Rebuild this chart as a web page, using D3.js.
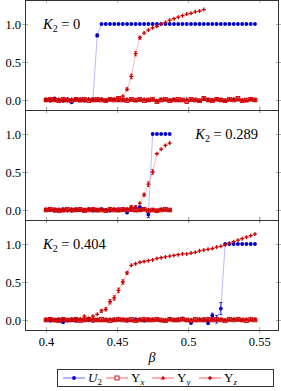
<!DOCTYPE html>
<html><head><meta charset="utf-8">
<script src="https://cdn.jsdelivr.net/npm/d3@7"></script>
<style>
body{margin:0;background:#fff}
svg{display:block}
svg text{font-family:"Liberation Serif","DejaVu Serif",serif !important;fill:#000}
</style>
</head><body>
<svg id="c" width="281" height="391"></svg>
<script>
// ---------- data ----------
const beta = [0.400,0.403,0.406,0.409,0.412,0.415,0.418,0.421,0.424,0.427,0.430,0.433,0.436,0.439,0.442,0.445,0.448,0.451,0.454,0.457,0.460,0.463,0.466,0.469,0.472,0.475,0.478,0.481,0.484,0.487,0.490,0.493,0.496,0.499,0.502,0.505,0.508,0.511,0.514,0.517,0.520,0.523,0.526,0.529,0.532,0.535,0.538,0.541,0.544,0.547];
const xTicks = [0.40,0.45,0.50,0.55];
const xTickLabels = ["0.4","0.45","0.5","0.55"];
const yTicks = [0.0,0.5,1.0];
const yTickLabels = ["0.0","0.5","1.0"];
const panelLabels = ["0","0.289","0.404"];
const seriesNames = ["U","Υ","Υ","Υ"];
const seriesSubs = ["2","x","y","z"];

// K2 = 0
const u2_k0 = [0.00,-0.01,0.02,0.00,-0.01,0.01,-0.03,0.01,0.01,-0.01,0.00,0.01,0.85,1,1,1,1,1,1,1,1,1,1,1,1,1,1,1,1,1,1,1,1,1,1,1,1,1,1,1,1,1,1,1,1,1,1,1,1,1];
const ux_k0 = [0.00,0.01,0.00,-0.01,0.01,0.00,-0.01,0.01,0.00,0.01,-0.01,0.00,0.01,0.00,-0.01,0.01,0.00,0.02,0.00,-0.01,0.01,0.00,0.01,-0.01,0.00,0.01,-0.02,0.00,0.01,-0.01,0.00,0.01,0.00,-0.02,0.01,0.00,-0.01,0.02,0.00,-0.01,0.01,0.00,-0.01,0.01,0.00,0.02,-0.01,0.00,0.01,0.00];
const uy_k0 = [0.01,0.00,0.00,0.01,-0.01,0.00,0.01,0.00,-0.01,0.00,0.01,0.00,-0.01,0.01,0.00,0.00,0.01,-0.01,0.00,0.01,0.00,-0.01,0.00,0.01,0.00,0.00,-0.01,0.01,0.00,0.00,0.01,-0.01,0.00,0.01,0.00,0.00,-0.01,0.01,0.00,0.00,0.01,0.00,-0.01,0.00,0.01,0.00,0.00,-0.01,0.01,0.00];
const uz_k0 = [0.00,0.00,0.01,0.00,0.00,-0.01,0.00,0.01,0.00,0.00,0.01,0.00,0.00,0.01,0.00,0.01,0.01,0.02,0.05,0.14,0.31,0.61,0.82,0.88,0.92,0.95,0.97,1.00,1.02,1.05,1.07,1.09,1.11,1.13,1.14,1.16,1.17,1.19];
const uzErr_k0 = [[19,0.02],[20,0.03],[21,0.03],[22,0.02]];
const u2Err_k0 = [[12,0.02]];
const uxErr_k0 = [[17,0.02],[26,0.02],[33,0.02],[37,0.02],[45,0.02]];

// K2 = 0.289
const u2_k1 = [0.00,0.01,-0.01,0.00,0.01,0.00,-0.01,0.01,0.00,0.00,0.01,-0.01,0.00,0.01,0.00,-0.01,0.00,0.01,0.00,-0.035,0.00,0.02,0.035,0.013,-0.06,1,1,1,1,1];
const ux_k1 = [0.00,0.01,0.00,-0.01,0.00,0.01,0.00,0.00,0.01,-0.01,0.00,0.01,0.00,0.00,-0.01,0.01,0.00,0.00,0.01,0.00,0.01,0.00,0.00,0.01,-0.01,0.00,-0.01,0.00,0.01,0.00];
const uy_k1 = [0.01,0.00,0.00,0.01,-0.01,0.00,0.01,0.00,0.00,0.00,0.01,0.00,-0.01,0.01,0.00,0.00,0.01,-0.01,0.00,0.01,0.00,-0.01,0.00,0.01,0.00,0.00,-0.01,0.01,0.00,0.00];
const uz_k1 = [0.00,0.00,0.01,0.00,0.00,-0.01,0.00,0.01,0.00,0.00,0.01,0.00,0.00,0.01,0.00,0.00,0.01,0.00,0.00,0.01,0.04,0.04,0.09,0.20,0.34,0.50,0.74,0.80,0.85,0.88];
const uzErr_k1 = [[20,0.02],[21,0.02],[23,0.02],[24,0.03],[25,0.03]];
const u2Err_k1 = [[22,0.02],[24,0.04]];
const uxErr_k1 = [[8,0.02],[23,0.02]];

// K2 = 0.404
const u2_k2 = [0.00,-0.01,0.00,0.01,-0.03,0.00,0.01,-0.01,0.00,0.01,0.00,-0.01,0.00,0.01,0.00,0.00,0.01,0.01,0.00,-0.01,0.00,0.01,0.00,-0.01,0.01,0.00,0.01,0.00,-0.01,0.01,0.00,0.01,0.02,0.00,-0.04,0.01,0.00,0.01,-0.04,0.06,0.01,0.15,1,1,1,1,1,1,1,1];
const ux_k2 = [0.00,0.01,0.00,-0.01,0.01,0.00,0.00,0.01,-0.01,0.00,0.01,0.00,0.00,0.01,0.00,-0.01,0.00,0.01,0.00,0.00,0.01,-0.01,0.00,0.01,0.00,0.00,0.01,0.00,-0.01,0.01,0.00,0.00,0.01,0.00,-0.01,0.01,0.00,0.00,0.01,0.00,0.01,0.00,-0.01,0.01,0.00,0.01,0.00,-0.01,0.01,0.00];
const uy_k2 = [0.01,0.00,-0.01,0.00,0.01,0.00,0.00,-0.01,0.01,0.00,0.00,0.01,0.00,-0.01,0.00,0.01,0.00,0.00,0.01,0.00,-0.01,0.00,0.01,0.00,0.00,0.01,0.00,-0.01,0.00,0.01,0.00,0.00,0.01,0.00,0.00,-0.01,0.01,0.00,0.00,0.01,0.00,0.01,0.00,0.00,0.01,0.00,0.00,0.01,0.00,0.01];
const uz_k2 = [0.00,0.01,0.00,0.00,0.01,-0.01,0.00,0.01,0.01,0.05,0.02,0.05,0.075,0.12,0.14,0.24,0.29,0.39,0.50,0.62,0.72,0.74,0.76,0.77,0.78,0.79,0.81,0.82,0.83,0.84,0.85,0.86,0.87,0.87,0.88,0.89,0.91,0.92,0.93,0.94,0.96,0.97,0.99,1.01,1.03,1.05,1.07,1.09,1.11,1.13];
const uzErr_k2 = [[13,0.02],[14,0.02],[15,0.03],[16,0.03],[17,0.03],[18,0.03],[19,0.02]];
const u2Err_k2 = [[38,0.02],[39,0.03],[40,0.05],[41,0.08]];
const uxErr_k2 = [[7,0.02],[24,0.02],[40,0.02]];

const panels = [
  {label: panelLabels[0], u2: u2_k0, ux: ux_k0, uy: uy_k0, uz: uz_k0, u2Err: u2Err_k0, uxErr: uxErr_k0, uzErr: uzErr_k0},
  {label: panelLabels[1], u2: u2_k1, ux: ux_k1, uy: uy_k1, uz: uz_k1, u2Err: u2Err_k1, uxErr: uxErr_k1, uzErr: uzErr_k1},
  {label: panelLabels[2], u2: u2_k2, ux: ux_k2, uy: uy_k2, uz: uz_k2, u2Err: u2Err_k2, uxErr: uxErr_k2, uzErr: uzErr_k2}
];

// ---------- layout ----------
const svg = d3.select("#c");
const L = 25, R = 279, PH = 110;
const tops = [0, 110, 220];
const x = d3.scaleLinear().domain([0.3852, 0.5639]).range([L, R]);
const BLUE = "#0000c8", BLUE_L = "#b3b3ff", RED = "#cc0000", RED_L = "#ffb0b0";
const labelPos = [{x: 43, anchor: "start"}, {x: 258, anchor: "end"}, {x: 43, anchor: "start"}];
const SERIF = '"Liberation Serif","DejaVu Serif",serif';

const defs = svg.append("defs");

function marker(g, type, cx, cy) {
  if (type === 0) {
    g.append("circle").attr("cx", cx).attr("cy", cy).attr("r", 1.9).attr("fill", BLUE);
  } else if (type === 1) {
    g.append("rect").attr("x", cx - 1.9).attr("y", cy - 1.9).attr("width", 3.8).attr("height", 3.8)
      .attr("fill", "#e05050").attr("stroke", RED).attr("stroke-width", 0.8);
  } else if (type === 2) {
    g.append("path").attr("d", `M${cx},${cy-2.4}L${cx+2.2},${cy+1.5}L${cx-2.2},${cy+1.5}Z`).attr("fill", RED);
  } else {
    g.append("path").attr("d", `M${cx-2},${cy}H${cx+2}M${cx},${cy-2}V${cy+2}`)
      .attr("stroke", RED).attr("stroke-width", 1.3).attr("fill", "none");
  }
}

panels.forEach((p, k) => {
  const top = tops[k];
  const y = d3.scaleLinear().domain([-0.1316, 1.3158]).range([top + PH, top]);
  const g = svg.append("g");
  const cid = "clip" + k;
  defs.append("clipPath").attr("id", cid).append("rect")
    .attr("x", L).attr("y", top).attr("width", R - L).attr("height", PH);

  const tickStyle = sel => { sel.select(".domain").remove(); sel.selectAll(".tick line").attr("stroke", "#9a9a9a").attr("stroke-width", 0.8); sel.selectAll("text").remove(); };
  g.append("g").attr("transform", `translate(0,${top + PH - 3})`)
    .call(d3.axisBottom(x).tickValues(xTicks).tickSize(6)).call(tickStyle);
  g.append("g").attr("transform", `translate(0,${top - 3})`)
    .call(d3.axisBottom(x).tickValues(xTicks).tickSize(6)).call(tickStyle);
  g.append("g").attr("transform", `translate(${L - 3},0)`)
    .call(d3.axisRight(y).tickValues(yTicks).tickSize(6)).call(tickStyle);
  g.append("g").attr("transform", `translate(${R - 3},0)`)
    .call(d3.axisRight(y).tickValues(yTicks).tickSize(6)).call(tickStyle);

  const ya = g.append("g").attr("transform", `translate(${L},0)`)
    .call(d3.axisLeft(y).tickValues(yTicks).tickSize(0).tickPadding(4).tickFormat((d, i) => yTickLabels[i]));
  ya.select(".domain").remove();
  ya.attr("font-family", null);
  ya.selectAll("text").attr("font-size", 12.5).style("font-family", SERIF).attr("dy", "0.35em");

  const plot = g.append("g").attr("clip-path", `url(#${cid})`);
  const series = [p.u2, p.ux, p.uy, p.uz];
  const errs = [p.u2Err, p.uxErr, null, p.uzErr];
  const lineCols = [BLUE_L, RED_L, RED_L, RED_L];
  const markCols = [BLUE, RED, RED, RED];
  const line = d3.line().x((d, i) => x(beta[i])).y(d => y(d));
  series.forEach((s, si) => {
    plot.append("path").datum(s).attr("d", line).attr("fill", "none")
      .attr("stroke", lineCols[si]).attr("stroke-width", 0.9);
  });
  series.forEach((s, si) => {
    const mg = plot.append("g");
    if (errs[si]) {
      errs[si].forEach(([i, e]) => {
        const cx = x(beta[i]);
        mg.append("path").attr("d", `M${cx},${y(s[i]-e)}V${y(s[i]+e)}M${cx-1.5},${y(s[i]-e)}H${cx+1.5}M${cx-1.5},${y(s[i]+e)}H${cx+1.5}`)
          .attr("stroke", markCols[si]).attr("stroke-width", 0.8).attr("fill", "none");
      });
    }
    s.forEach((v, i) => marker(mg, si, x(beta[i]), y(v)));
  });

  g.append("rect").attr("x", L + 0.5).attr("y", top + 0.5).attr("width", R - L - 1).attr("height", PH)
    .attr("fill", "none").attr("stroke", "#333").attr("stroke-width", 1);

  const lp = labelPos[k];
  const t = g.append("text").attr("x", lp.x).attr("y", top + 29).attr("text-anchor", lp.anchor).attr("font-size", 14.5);
  t.append("tspan").attr("font-style", "italic").text("K");
  t.append("tspan").attr("font-size", 10).attr("dy", 3).text("2");
  t.append("tspan").attr("dy", -3).text(" = " + p.label);
});

const xa = svg.append("g").attr("transform", `translate(0,${330})`)
  .call(d3.axisBottom(x).tickValues(xTicks).tickSize(0).tickPadding(7).tickFormat((d, i) => xTickLabels[i]));
xa.select(".domain").remove();
xa.attr("font-family", null);
xa.selectAll("text").attr("font-size", 12.5).style("font-family", SERIF);

svg.append("text").attr("x", (L + R) / 2).attr("y", 362).attr("text-anchor", "middle")
  .attr("font-size", 14).attr("font-style", "italic").text("β");

const lg = svg.append("g");
lg.append("rect").attr("x", 57.5).attr("y", 369.5).attr("width", 216).attr("height", 17)
  .attr("fill", "#fff").attr("stroke", "#333").attr("stroke-width", 1);
const legX = [63, 106, 152, 199];
const legLine = [BLUE_L, RED_L, RED_L, RED_L];
legX.forEach((lx, i) => {
  const cy = 378;
  lg.append("line").attr("x1", lx).attr("x2", lx + 22).attr("y1", cy).attr("y2", cy)
    .attr("stroke", legLine[i]).attr("stroke-width", 2);
  if (i === 1) {
    lg.append("rect").attr("x", lx + 9).attr("y", cy - 2).attr("width", 4).attr("height", 4)
      .attr("fill", "#fff").attr("stroke", RED).attr("stroke-width", 0.9);
  } else {
    marker(lg, i, lx + 11, cy);
  }
  const t = lg.append("text").attr("x", lx + 25).attr("y", cy + 4).attr("font-size", 13);
  t.append("tspan").attr("font-style", i === 0 ? "italic" : "normal").text(seriesNames[i]);
  t.append("tspan").attr("font-size", 9).attr("dy", 3).attr("font-style", i === 0 ? "normal" : "italic").text(seriesSubs[i]);
});
</script>
</body></html>
